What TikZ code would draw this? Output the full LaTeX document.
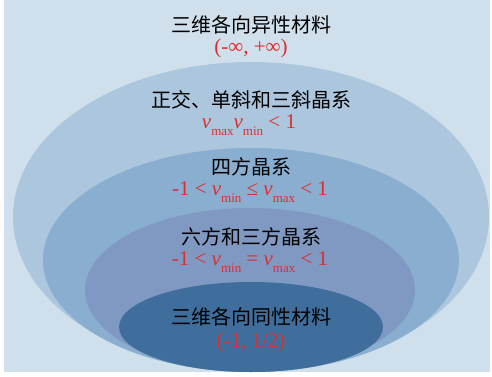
\documentclass[tikz,border=0pt]{standalone}
\usepackage{fontspec}
\setmainfont{Liberation Serif}
\newfontfamily\cjk{Noto Sans CJK SC}
\definecolor{bgc}{RGB}{207,224,236}
\definecolor{eA}{RGB}{171,198,221}
\definecolor{eB}{RGB}{137,174,207}
\definecolor{eC}{RGB}{127,153,195}
\definecolor{eD}{RGB}{63,110,157}
\definecolor{redt}{RGB}{222,45,45}
\newcommand{\vsb}[1]{\textit{v}\raisebox{-7pt}{\fontsize{13}{13}\selectfont #1}}
\tikzset{
  cjklabel/.style={font=\cjk\fontsize{20}{22}\selectfont, text=black, inner sep=0pt},
  rangelabel/.style={font=\fontsize{21}{23}\selectfont, text=redt, inner sep=0pt},
}
\begin{document}
\begin{tikzpicture}[x=1pt,y=-1pt]
\useasboundingbox (0,0) rectangle (492,377);
\fill[white] (0,0) rectangle (492,377);
\fill[bgc] (4,0) rectangle (490,372);
\begin{scope}
\clip (4,0) rectangle (490,372);
\fill[eA] (251,217) ellipse [x radius=238, y radius=155];
\fill[eB] (251,260) ellipse [x radius=208, y radius=112];
\fill[eC] (250,290) ellipse [x radius=165, y radius=82];
\fill[eD] (251,327) ellipse [x radius=132, y radius=45];
\end{scope}
\node[cjklabel] (t1) at (251,25) {三维各向异性材料};
\node[rangelabel] (r1) at (251,48) {(-∞, +∞)};
\node[cjklabel] (t2) at (251,100) {正交、单斜和三斜晶系};
\node[rangelabel] (r2) at (249,125) {\vsb{max}\vsb{min} < 1};
\node[cjklabel] (t3) at (251,167) {四方晶系};
\node[rangelabel] (r3) at (250,192) {-1 < \vsb{min} ≤ \vsb{max} < 1};
\node[cjklabel] (t4) at (251,237) {六方和三方晶系};
\node[rangelabel] (r4) at (250,262) {-1 < \vsb{min} = \vsb{max} < 1};
\node[cjklabel] (t5) at (251,317) {三维各向同性材料};
\node[rangelabel] (r5) at (251,342) {(-1, 1/2)};
\end{tikzpicture}
\end{document}
